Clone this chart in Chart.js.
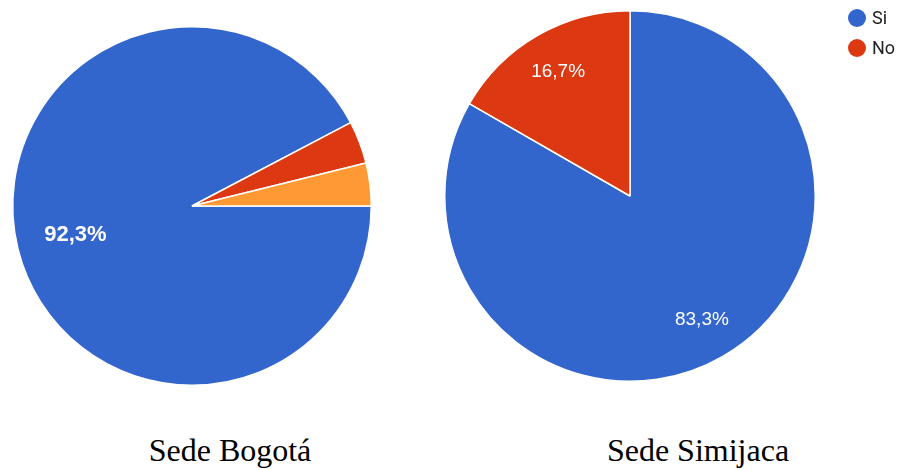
<!DOCTYPE html>
<html>
<head>
<meta charset="utf-8">
<script src="https://cdn.jsdelivr.net/npm/chart.js@4"></script>
<style>
  html, body { margin: 0; padding: 0; background: #fff; }
  body { width: 904px; height: 470px; position: relative; overflow: hidden; }
  .cv { position: absolute; }
  .cap { position: absolute; font-family: "Liberation Serif", "Times New Roman", serif; font-size: 32px; color: #000; white-space: nowrap; transform: translateX(-50%); }
</style>
</head>
<body>
<div class="cv" style="left:0;top:0;width:384px;height:412px;"><canvas id="c1"></canvas></div>
<div class="cv" style="left:430px;top:0;width:474px;height:400px;"><canvas id="c2"></canvas></div>
<div class="cap" style="left:230px;top:432px;">Sede Bogotá</div>
<div class="cap" style="left:698px;top:432px;">Sede Simijaca</div>
<script>
const bogotaLabels = ["Si", "No", "Otro"];
const bogotaValues = [92.3, 3.85, 3.85];
const bogotaText = ["92,3%", "", ""];
const simijacaLabels = ["Si", "No"];
const simijacaValues = [83.3, 16.7];
const simijacaText = ["83,3%", "16,7%"];
const colors = ["#3366cc", "#dc3912", "#ff9933"];

const sliceLabels = {
  id: "sliceLabels",
  afterDatasetsDraw(chart, args, opts) {
    const ctx = chart.ctx;
    const meta = chart.getDatasetMeta(0);
    meta.data.forEach((arc, i) => {
      const t = opts.texts[i];
      if (!t) return;
      const mid = (arc.startAngle + arc.endAngle) / 2;
      const r = arc.outerRadius * opts.factor;
      const x = arc.x + Math.cos(mid) * r;
      const y = arc.y + Math.sin(mid) * r;
      ctx.save();
      ctx.fillStyle = "#ffffff";
      ctx.font = opts.font;
      ctx.textAlign = "center";
      ctx.textBaseline = "middle";
      ctx.fillText(t, x, y);
      ctx.restore();
    });
  }
};

const sideLegend = {
  id: "sideLegend",
  afterDraw(chart, args, opts) {
    if (!opts.show) return;
    const ctx = chart.ctx;
    const ds = chart.data.datasets[0];
    chart.data.labels.forEach((lab, i) => {
      const y = opts.y + i * opts.gap;
      ctx.save();
      ctx.fillStyle = ds.backgroundColor[i];
      ctx.beginPath();
      ctx.arc(opts.x, y, 9, 0, Math.PI * 2);
      ctx.fill();
      ctx.fillStyle = "#222222";
      ctx.font = "18px Roboto, Arial, sans-serif";
      ctx.textAlign = "left";
      ctx.textBaseline = "middle";
      ctx.fillText(lab, opts.x + 15, y + 1);
      ctx.restore();
    });
  }
};

new Chart(document.getElementById("c1"), {
  type: "pie",
  data: {
    labels: bogotaLabels,
    datasets: [{ data: bogotaValues, backgroundColor: colors.slice(0, 3), borderColor: "#ffffff", borderWidth: 1.5 }]
  },
  options: {
    responsive: true, maintainAspectRatio: false, animation: false,
    rotation: 90,
    layout: { padding: { left: 12, right: 12, top: 26, bottom: 26 } },
    plugins: {
      legend: { display: false }, tooltip: { enabled: false },
      sliceLabels: { texts: bogotaText, factor: 0.67, font: "bold 22px Arial, 'Liberation Sans', sans-serif" },
      sideLegend: { show: false }
    }
  },
  plugins: [sliceLabels, sideLegend]
});

new Chart(document.getElementById("c2"), {
  type: "pie",
  data: {
    labels: simijacaLabels,
    datasets: [{ data: simijacaValues, backgroundColor: colors.slice(0, 2), borderColor: "#ffffff", borderWidth: 1.5 }]
  },
  options: {
    responsive: true, maintainAspectRatio: false, animation: false,
    rotation: 0,
    layout: { padding: { left: 14, right: 88, top: 9, bottom: 17 } },
    plugins: {
      legend: { display: false }, tooltip: { enabled: false },
      sliceLabels: { texts: simijacaText, factor: 0.775, font: "19px Arial, 'Liberation Sans', sans-serif" },
      sideLegend: { show: true, x: 427, y: 18, gap: 30 }
    }
  },
  plugins: [sliceLabels, sideLegend]
});
</script>
</body>
</html>
